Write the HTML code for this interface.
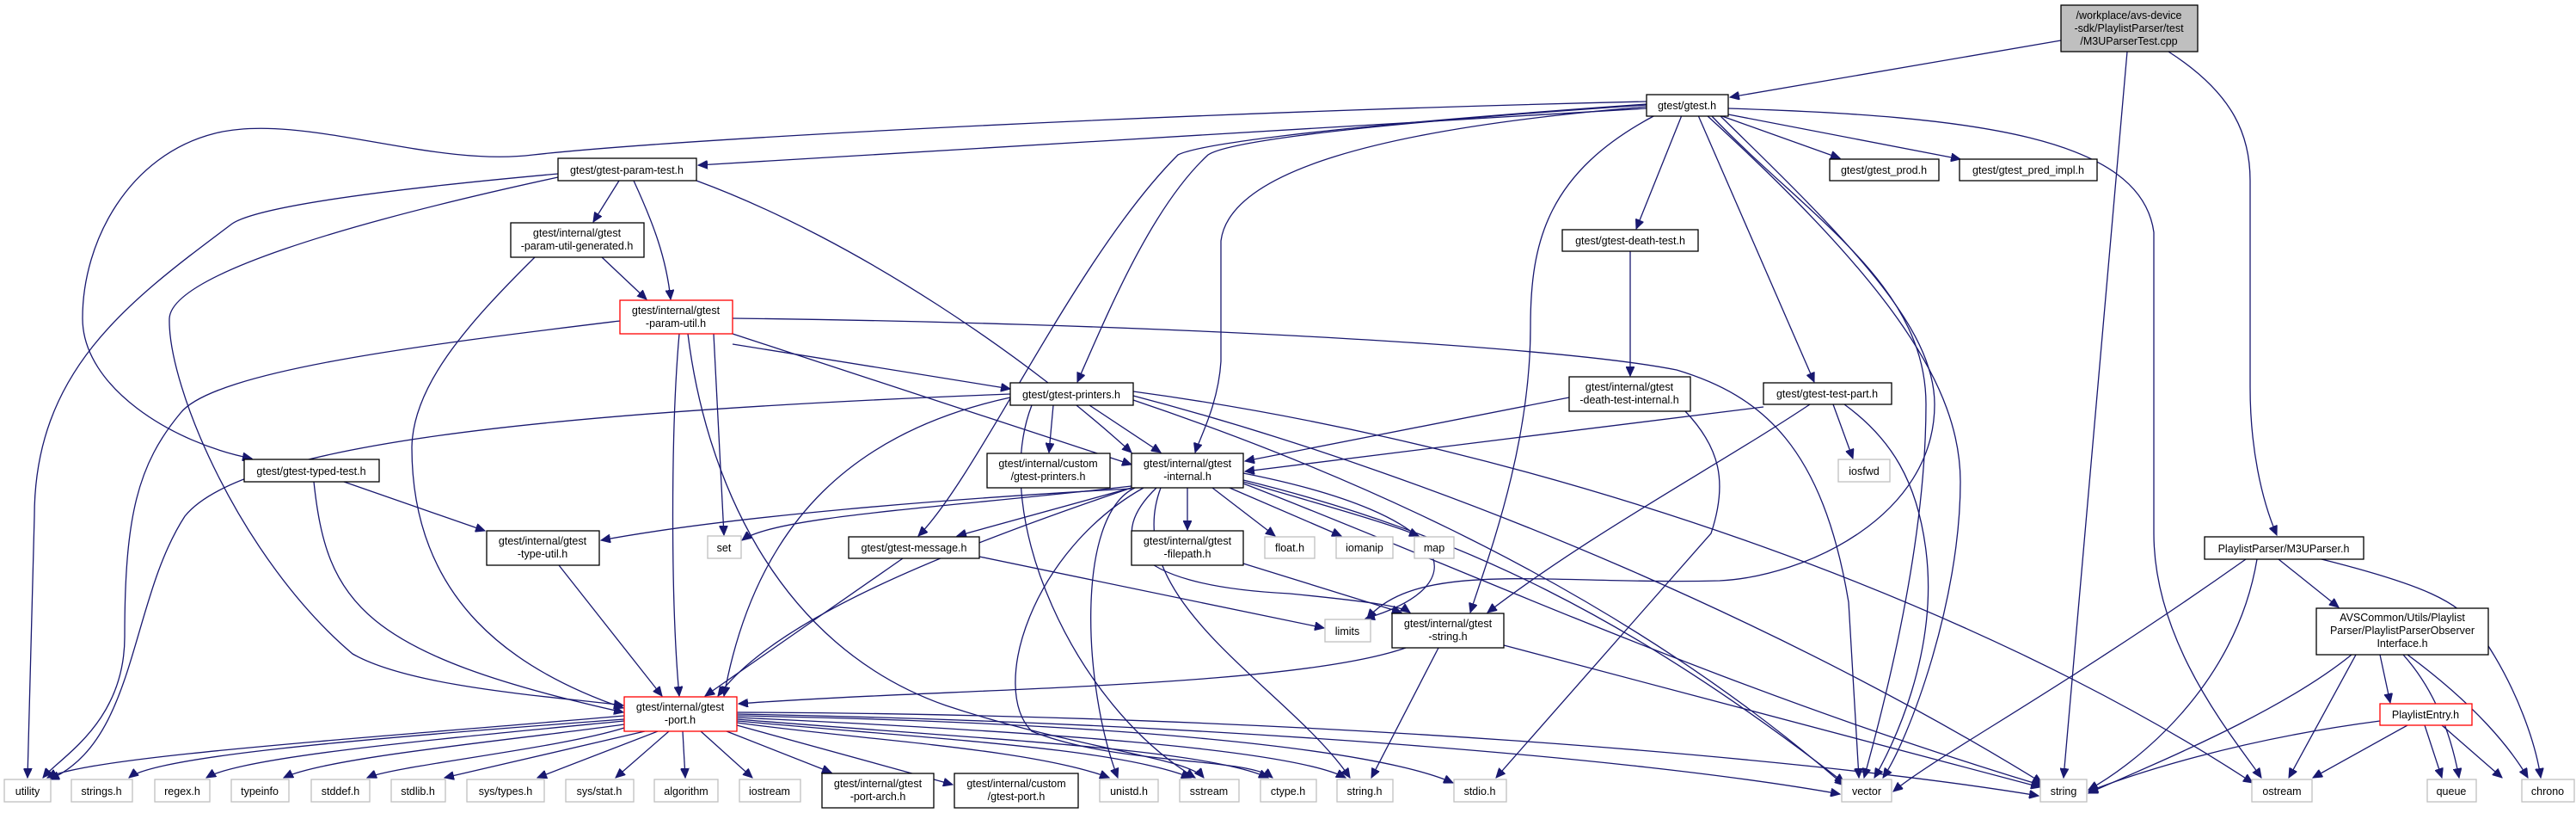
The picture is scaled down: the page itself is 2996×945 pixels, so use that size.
<!DOCTYPE html>
<html><head><meta charset="utf-8">
<style>
html,body{margin:0;padding:0;background:#fff;}
svg{display:block;}
text{font-family:"Liberation Sans",Helvetica,Arial,sans-serif;font-size:12.5px;fill:#000;text-anchor:middle;}
.e{fill:none;stroke:#191970;stroke-width:1.3;marker-end:url(#a);}
.b{fill:#fff;stroke:#000;stroke-width:1.3;}
.g{fill:#fff;stroke:#bfbfbf;stroke-width:1.3;}
.r{fill:#fff;stroke:#ff0000;stroke-width:1.3;}
</style></head><body>
<svg width="2996" height="945" viewBox="0 0 2996 945" xmlns="http://www.w3.org/2000/svg">
<defs><marker id="a" markerUnits="userSpaceOnUse" markerWidth="12" markerHeight="10" refX="11" refY="5" orient="auto"><path d="M0,0 L11,5 L0,10 z" fill="#191970" stroke="#191970"/></marker></defs>
<g>
<path class="e" d="M2397,47 L2012,113"/>
<path class="e" d="M2474,60 L2400,904"/>
<path class="e" d="M2522,60 C2600,110 2617,160 2617,210 L2617,450 C2617,520 2630,580 2648,622"/>
<path class="e" d="M2000,134 L2140,184"/>
<path class="e" d="M2010,133 L2280,185"/>
<path class="e" d="M2010,126 C2300,135 2490,160 2505,270 L2505,620 C2505,750 2600,860 2630,904"/>
<path class="e" d="M1990,134 C2100,250 2240,330 2240,470 C2240,650 2180,860 2168,904"/>
<path class="e" d="M1985,134 C2200,330 2280,450 2280,560 C2280,700 2220,860 2190,904"/>
<path class="e" d="M1975,134 L2110,444"/>
<path class="e" d="M1956,134 L1903,266"/>
<path class="e" d="M1925,134 C1800,200 1780,280 1780,380 C1780,520 1730,650 1710,712"/>
<path class="e" d="M1915,124 C1600,150 1430,200 1420,280 L1420,420 C1417,470 1395,510 1390,526"/>
<path class="e" d="M1915,122 C1500,150 1420,170 1405,180 C1340,240 1290,360 1253,444"/>
<path class="e" d="M1915,121 C1500,150 1390,170 1370,180 C1250,300 1140,550 1068,623"/>
<path class="e" d="M1915,126 L812,192"/>
<path class="e" d="M1915,118 C1400,130 800,160 620,180 C500,195 350,130 250,155 C150,180 96,280 96,370 C96,450 200,515 293,533"/>
<path class="e" d="M2000,134 C2150,280 2250,380 2250,470 C2250,600 2100,670 2000,675 C1800,680 1650,650 1590,719"/>
<path class="e" d="M2132,470 L2155,533"/>
<path class="e" d="M2145,470 C2200,510 2230,560 2240,640 C2255,760 2200,870 2180,904"/>
<path class="e" d="M2051,473 L1448,548"/>
<path class="e" d="M2105,470 C2000,540 1850,620 1730,712"/>
<path class="e" d="M1896,292 L1896,437"/>
<path class="e" d="M1825,462 L1448,536"/>
<path class="e" d="M1960,478 C2000,520 2010,560 1990,620 L1740,904"/>
<path class="e" d="M720,210 L690,258"/>
<path class="e" d="M737,210 C760,260 775,300 780,348"/>
<path class="e" d="M810,210 C1000,280 1200,420 1316,526"/>
<path class="e" d="M649,202 C450,220 300,240 270,260 C150,350 40,430 40,600 L32,904"/>
<path class="e" d="M649,206 C400,260 200,320 197,370 C195,450 280,650 410,760 C480,800 650,810 725,820"/>
<path class="e" d="M700,299 L752,348"/>
<path class="e" d="M622,299 C540,380 480,450 479,520 C479,700 600,780 725,823"/>
<path class="e" d="M721,373 C500,400 250,430 210,480 C160,540 145,600 145,740 C145,840 70,880 50,904"/>
<path class="e" d="M830,388 L842,622"/>
<path class="e" d="M790,388 C780,500 780,700 790,809"/>
<path class="e" d="M800,388 C820,550 900,750 1100,820 C1250,870 1380,880 1400,904"/>
<path class="e" d="M852,400 L1175,452"/>
<path class="e" d="M852,388 L1316,540"/>
<path class="e" d="M852,370 C1300,375 1800,400 1950,430 C2050,460 2120,520 2150,700 L2162,904"/>
<path class="e" d="M400,560 L564,617"/>
<path class="e" d="M365,560 C380,700 420,760 725,828"/>
<path class="e" d="M650,657 L770,809"/>
<path class="e" d="M1225,471 L1220,526"/>
<path class="e" d="M1267,471 L1350,526"/>
<path class="e" d="M1175,462 C1000,500 880,600 842,809"/>
<path class="e" d="M1175,458 C600,480 280,520 215,600 C150,700 160,860 58,906"/>
<path class="e" d="M1318,455 C1800,520 2300,700 2620,910"/>
<path class="e" d="M1318,460 C1700,560 2100,740 2375,910"/>
<path class="e" d="M1318,465 C1600,560 1900,700 2145,913"/>
<path class="e" d="M1200,471 C1150,600 1250,820 1390,904"/>
<path class="e" d="M1381,567 L1381,616"/>
<path class="e" d="M1410,567 L1483,623"/>
<path class="e" d="M1430,567 L1560,623"/>
<path class="e" d="M1446,560 C1550,590 1620,610 1650,623"/>
<path class="e" d="M1316,567 L1113,623"/>
<path class="e" d="M1316,565 C1100,590 900,600 863,628"/>
<path class="e" d="M1316,568 C1100,580 850,600 699,628"/>
<path class="e" d="M1316,567 C1100,640 900,720 835,809"/>
<path class="e" d="M1446,550 C1700,600 1720,680 1588,719"/>
<path class="e" d="M1345,567 C1290,620 1300,680 1500,690 C1600,700 1630,705 1640,712"/>
<path class="e" d="M1350,567 C1300,700 1500,800 1570,904"/>
<path class="e" d="M1330,567 C1200,640 1150,800 1200,850 C1300,890 1450,880 1480,904"/>
<path class="e" d="M1320,567 C1250,600 1260,800 1300,904"/>
<path class="e" d="M1446,558 C1700,620 1900,720 2145,910"/>
<path class="e" d="M1446,562 C1700,660 2000,800 2375,913"/>
<path class="e" d="M1050,649 L820,809"/>
<path class="e" d="M1139,647 L1540,730"/>
<path class="e" d="M1446,655 L1630,712"/>
<path class="e" d="M1635,753 C1500,800 1100,800 859,818"/>
<path class="e" d="M1673,753 L1595,904"/>
<path class="e" d="M1749,750 L2373,915"/>
<path class="e" d="M726,832 C400,860 100,880 55,904"/>
<path class="e" d="M726,836 C400,860 180,880 150,904"/>
<path class="e" d="M726,838 C500,860 280,880 240,904"/>
<path class="e" d="M726,842 C600,860 380,880 330,904"/>
<path class="e" d="M726,846 C650,870 460,890 427,904"/>
<path class="e" d="M750,850 L517,904"/>
<path class="e" d="M765,850 L625,904"/>
<path class="e" d="M778,850 L716,904"/>
<path class="e" d="M794,850 L797,904"/>
<path class="e" d="M815,850 L875,904"/>
<path class="e" d="M845,850 L967,898"/>
<path class="e" d="M857,843 L1108,912"/>
<path class="e" d="M857,840 C1000,860 1200,870 1290,904"/>
<path class="e" d="M857,838 C1100,860 1300,870 1385,904"/>
<path class="e" d="M857,836 C1150,860 1400,870 1475,904"/>
<path class="e" d="M857,834 C1200,850 1500,870 1565,904"/>
<path class="e" d="M857,832 C1300,840 1600,870 1690,910"/>
<path class="e" d="M857,830 C1400,840 1900,880 2140,923"/>
<path class="e" d="M857,828 C1500,830 2100,880 2371,925"/>
<path class="e" d="M2650,650 L2720,706"/>
<path class="e" d="M2612,650 C2400,800 2250,880 2202,920"/>
<path class="e" d="M2625,650 C2600,800 2480,890 2429,918"/>
<path class="e" d="M2700,650 C2820,680 2860,700 2880,730 C2930,800 2950,870 2955,904"/>
<path class="e" d="M2768,761 L2780,817"/>
<path class="e" d="M2735,761 C2650,830 2500,890 2429,922"/>
<path class="e" d="M2740,761 L2662,904"/>
<path class="e" d="M2795,761 C2830,800 2850,850 2860,904"/>
<path class="e" d="M2800,761 C2880,820 2920,870 2940,904"/>
<path class="e" d="M2768,838 C2600,860 2480,900 2429,920"/>
<path class="e" d="M2800,843 L2690,904"/>
<path class="e" d="M2820,843 L2840,904"/>
<path class="e" d="M2840,843 L2910,904"/>
</g>
<g>
<rect x="2397" y="6" width="159" height="54" fill="#bfbfbf" stroke="#000" stroke-width="1.3"/>
<text x="2476" y="22">/workplace/avs-device</text><text x="2476" y="37">-sdk/PlaylistParser/test</text><text x="2476" y="52">/M3UParserTest.cpp</text>
<rect class="b" x="1915" y="110" width="95" height="25"/><text x="1962" y="127">gtest/gtest.h</text>
<rect class="b" x="2128" y="185" width="127" height="25"/><text x="2191" y="202">gtest/gtest_prod.h</text>
<rect class="b" x="2279" y="185" width="160" height="25"/><text x="2359" y="202">gtest/gtest_pred_impl.h</text>
<rect class="b" x="649" y="184" width="161" height="26"/><text x="729" y="202">gtest/gtest-param-test.h</text>
<rect class="b" x="594" y="259" width="155" height="40"/><text x="671" y="275">gtest/internal/gtest</text><text x="671" y="290">-param-util-generated.h</text>
<rect class="r" x="721" y="349" width="131" height="39"/><text x="786" y="365">gtest/internal/gtest</text><text x="786" y="380">-param-util.h</text>
<rect class="b" x="1817" y="267" width="158" height="25"/><text x="1896" y="284">gtest/gtest-death-test.h</text>
<rect class="b" x="1825" y="438" width="141" height="40"/><text x="1895" y="454">gtest/internal/gtest</text><text x="1895" y="469">-death-test-internal.h</text>
<rect class="b" x="1175" y="445" width="143" height="26"/><text x="1246" y="463">gtest/gtest-printers.h</text>
<rect class="b" x="2051" y="445" width="149" height="25"/><text x="2125" y="462">gtest/gtest-test-part.h</text>
<rect class="g" x="2138" y="534" width="60" height="26"/><text x="2168" y="552">iosfwd</text>
<rect class="b" x="284" y="534" width="157" height="26"/><text x="362" y="552">gtest/gtest-typed-test.h</text>
<rect class="b" x="1148" y="527" width="143" height="40"/><text x="1219" y="543">gtest/internal/custom</text><text x="1219" y="558">/gtest-printers.h</text>
<rect class="b" x="1316" y="527" width="130" height="40"/><text x="1381" y="543">gtest/internal/gtest</text><text x="1381" y="558">-internal.h</text>
<rect class="b" x="566" y="617" width="131" height="40"/><text x="631" y="633">gtest/internal/gtest</text><text x="631" y="648">-type-util.h</text>
<rect class="g" x="823" y="623" width="39" height="26"/><text x="842" y="641">set</text>
<rect class="b" x="987" y="624" width="152" height="25"/><text x="1063" y="641">gtest/gtest-message.h</text>
<rect class="b" x="1316" y="617" width="130" height="40"/><text x="1381" y="633">gtest/internal/gtest</text><text x="1381" y="648">-filepath.h</text>
<rect class="g" x="1471" y="624" width="58" height="25"/><text x="1500" y="641">float.h</text>
<rect class="g" x="1554" y="624" width="66" height="25"/><text x="1587" y="641">iomanip</text>
<rect class="g" x="1645" y="624" width="46" height="25"/><text x="1668" y="641">map</text>
<rect class="b" x="2564" y="624" width="185" height="26"/><text x="2656" y="642">PlaylistParser/M3UParser.h</text>
<rect class="b" x="1619" y="713" width="130" height="40"/><text x="1684" y="729">gtest/internal/gtest</text><text x="1684" y="744">-string.h</text>
<rect class="g" x="1541" y="720" width="53" height="26"/><text x="1567" y="738">limits</text>
<rect class="b" x="2694" y="707" width="200" height="54"/><text x="2794" y="722">AVSCommon/Utils/Playlist</text><text x="2794" y="737">Parser/PlaylistParserObserver</text><text x="2794" y="752">Interface.h</text>
<rect class="r" x="726" y="810" width="131" height="40"/><text x="791" y="826">gtest/internal/gtest</text><text x="791" y="841">-port.h</text>
<rect class="r" x="2768" y="818" width="107" height="25"/><text x="2821" y="835">PlaylistEntry.h</text>
<rect class="g" x="5" y="906" width="54" height="26"/><text x="32" y="924">utility</text>
<rect class="g" x="83" y="906" width="71" height="26"/><text x="118" y="924">strings.h</text>
<rect class="g" x="180" y="906" width="64" height="26"/><text x="212" y="924">regex.h</text>
<rect class="g" x="269" y="906" width="67" height="26"/><text x="302" y="924">typeinfo</text>
<rect class="g" x="362" y="906" width="68" height="26"/><text x="396" y="924">stddef.h</text>
<rect class="g" x="455" y="906" width="63" height="26"/><text x="486" y="924">stdlib.h</text>
<rect class="g" x="543" y="906" width="90" height="26"/><text x="588" y="924">sys/types.h</text>
<rect class="g" x="658" y="906" width="79" height="26"/><text x="697" y="924">sys/stat.h</text>
<rect class="g" x="761" y="906" width="74" height="26"/><text x="798" y="924">algorithm</text>
<rect class="g" x="860" y="906" width="71" height="26"/><text x="895" y="924">iostream</text>
<rect class="b" x="956" y="899" width="130" height="40"/><text x="1021" y="915">gtest/internal/gtest</text><text x="1021" y="930">-port-arch.h</text>
<rect class="b" x="1110" y="899" width="144" height="40"/><text x="1182" y="915">gtest/internal/custom</text><text x="1182" y="930">/gtest-port.h</text>
<rect class="g" x="1279" y="906" width="68" height="26"/><text x="1313" y="924">unistd.h</text>
<rect class="g" x="1372" y="906" width="69" height="26"/><text x="1406" y="924">sstream</text>
<rect class="g" x="1466" y="906" width="65" height="26"/><text x="1498" y="924">ctype.h</text>
<rect class="g" x="1555" y="906" width="65" height="26"/><text x="1587" y="924">string.h</text>
<rect class="g" x="1691" y="906" width="61" height="26"/><text x="1721" y="924">stdio.h</text>
<rect class="g" x="2142" y="906" width="58" height="26"/><text x="2171" y="924">vector</text>
<rect class="g" x="2373" y="906" width="54" height="26"/><text x="2400" y="924">string</text>
<rect class="g" x="2619" y="906" width="70" height="26"/><text x="2654" y="924">ostream</text>
<rect class="g" x="2823" y="906" width="57" height="26"/><text x="2851" y="924">queue</text>
<rect class="g" x="2933" y="906" width="61" height="26"/><text x="2963" y="924">chrono</text>
</g>
</svg>
</body></html>
